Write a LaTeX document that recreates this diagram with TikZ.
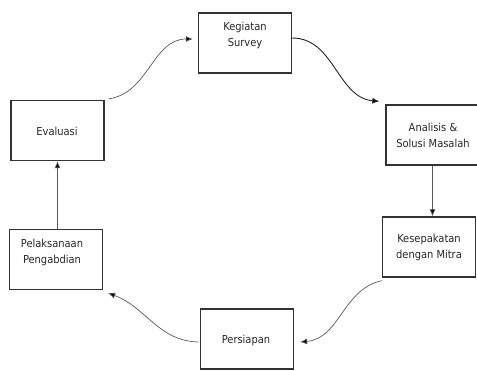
\documentclass[tikz,border=0pt]{standalone}
\usepackage{fontspec}
\setmainfont{DejaVu Sans Condensed}
\usetikzlibrary{arrows.meta}
\begin{document}
\begin{tikzpicture}[x=1pt,y=-1pt,
  box/.style={draw=black!80,line width=1.3pt,minimum width=93pt,minimum height=60pt,inner sep=0pt},
  txt/.style={align=center,text=black!85,font=\fontsize{11}{15.5}\selectfont,inner sep=0pt},
  conn/.style={draw=black!65,line width=0.7pt,-{Latex[length=7pt,width=6pt,fill=black]}}]
\useasboundingbox (0,0) rectangle (477,370);
% boxes
\node[box] (surv) at (245,43) {};
\node[box] (anal) at (432.5,135) {};
\node[box] (kese) at (429,247) {};
\node[box] (pers) at (247,339) {};
\node[box] (pela) at (56,259.5) {};
\node[box] (eval) at (57.5,130.5) {};
% texts
\node[txt] (tsurv) at (245,35.5) {Kegiatan\\Survey};
\node[txt] (tanal) at (433,135.5) {Analisis \&\\Solusi Masalah};
\node[txt] (tkese) at (429,247.5) {Kesepakatan\\dengan Mitra};
\node[txt] (tpers) at (246,340) {Persiapan};
\node[txt] (tpela) at (52,252.5) {Pelaksanaan\\Pengabdian};
\node[txt] (teval) at (57,131) {Evaluasi};
% connectors
\draw[conn] ([shift={(4,-1)}]eval.north east) to[out=8,in=180] ([shift={(-5,-4)}]surv.west);
\draw[conn,line width=0.9pt,draw=black!85] ([shift={(0,-5)}]surv.east) to[out=0,in=175] ([shift={(-6,-3)}]anal.north west);
\draw[conn] (anal.south) -- (kese.north -| anal.south);
\draw[conn] ([shift={(0,3)}]kese.south west) to[out=192,in=5] ([shift={(6,3)}]pers.east);
\draw[conn] ([shift={(-2,3)}]pers.west) to[out=178,in=340] ([shift={(5,3)}]pela.south east);
\draw[conn] (pela.north -| eval.south) -- (eval.south);
\end{tikzpicture}
\end{document}
